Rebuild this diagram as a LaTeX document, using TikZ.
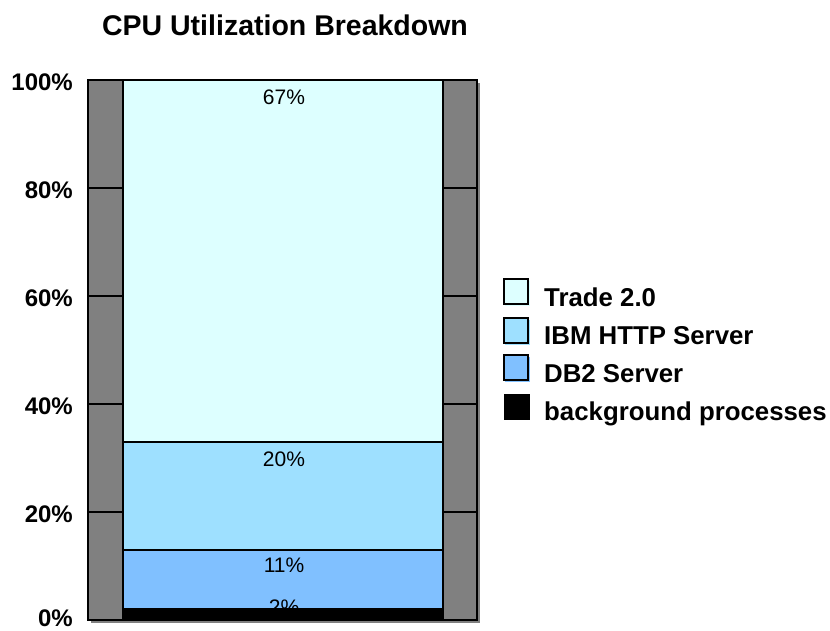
\documentclass[tikz,border=0pt]{standalone}
\usepackage{fontspec}
\setmainfont{Liberation Sans}
\definecolor{tradec}{HTML}{DDFFFF}
\definecolor{httpc}{HTML}{9EE0FF}
\definecolor{dbc}{HTML}{80C0FF}
\definecolor{wallc}{HTML}{808080}
\begin{document}
\begin{tikzpicture}[x=1pt,y=-1pt,
  ylab/.style={anchor=base east,inner sep=0pt,font=\fontsize{24}{28}\selectfont\bfseries},
  vlab/.style={anchor=base,inner sep=0pt,font=\fontsize{21}{25}\selectfont},
  leglab/.style={anchor=base west,inner sep=0pt,font=\fontsize{25.8}{30}\selectfont\bfseries},
  titlestyle/.style={anchor=base,inner sep=0pt,font=\fontsize{28.5}{32}\selectfont\bfseries},
  legbox/.style={draw=black,line width=1.5pt},
  seg/.style={line width=1.5pt}]
\useasboundingbox (0,0) rectangle (830,630);
% title
\node[titlestyle] (title) at (285,35) {CPU Utilization Breakdown};
% shadow and walls
\fill[wallc] (91,83) rectangle (480,623);
\fill[wallc] (88,80) rectangle (477,620);
% grid lines on the walls
\foreach \yy in {188,296,404,512}{
  \draw[line width=1.5pt] (88,\yy) -- (123,\yy);
  \draw[line width=1.5pt] (443,\yy) -- (477,\yy);
}
% stacked segments
\fill[black] (123,609.2) rectangle (443,620);
\fill[dbc] (123,549.8) rectangle (443,609.2);
\fill[httpc] (123,441.8) rectangle (443,549.8);
\fill[tradec] (123,80) rectangle (443,441.8);
\draw[seg] (123,609.2) -- (443,609.2);
\draw[seg] (123,549.8) -- (443,549.8);
\draw[seg] (123,441.8) -- (443,441.8);
\draw[seg] (123,80) -- (123,620);
\draw[seg] (443,80) -- (443,620);
% frame
\draw[line width=2pt] (88,80) rectangle (477,620);
% value labels
\node[vlab] (v67) at (284,104) {67\%};
\node[vlab] (v20) at (284,466) {20\%};
\node[vlab] (v11) at (284,572) {11\%};
\node[vlab] (v2) at (284,614) {2\%};
% y axis labels
\node[ylab] (y100) at (73,90) {100\%};
\node[ylab] (y80) at (73,198) {80\%};
\node[ylab] (y60) at (73,306) {60\%};
\node[ylab] (y40) at (73,414) {40\%};
\node[ylab] (y20) at (73,522) {20\%};
\node[ylab] (y0) at (73,626) {0\%};
% legend
\fill[tradec] (505,281) rectangle (530,306);
\draw[legbox,fill=tradec] (504,279) rectangle (528,304);
\node[leglab] (lt) at (544,306) {Trade 2.0};
\fill[httpc] (505,320) rectangle (530,345);
\draw[legbox,fill=httpc] (504,318) rectangle (528,343);
\node[leglab] (lh) at (544,344) {IBM HTTP Server};
\fill[dbc] (505,357) rectangle (530,382);
\draw[legbox,fill=dbc] (504,355) rectangle (528,380);
\node[leglab] (ld) at (544,382) {DB2 Server};
\fill[black] (504,394) rectangle (530,420);
\node[leglab] (lb) at (544,420) {background processes};
\end{tikzpicture}
\end{document}
